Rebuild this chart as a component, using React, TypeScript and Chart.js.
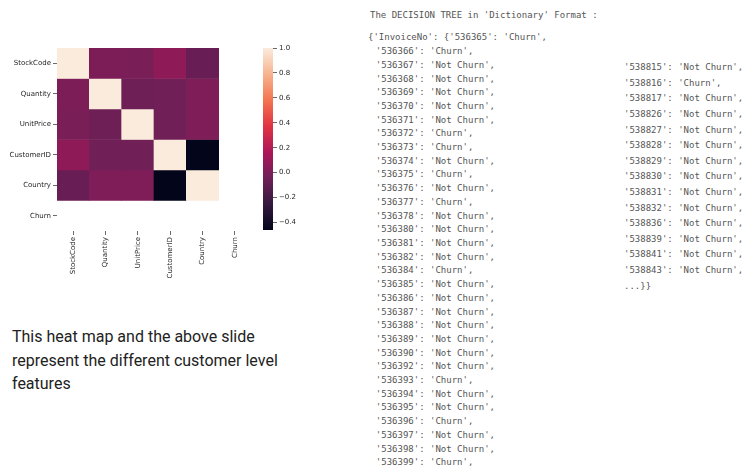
import React, { useEffect, useRef } from "react";
import { Chart, registerables } from "chart.js";

Chart.register(...registerables);

// ---------- data ----------
const features = ["StockCode", "Quantity", "UnitPrice", "CustomerID", "Country", "Churn"];
// correlation matrix rows (null = NaN, drawn blank)
const rowStockCode = [1.0, 0.0, -0.01, 0.06, -0.07, null];
const rowQuantity = [0.0, 1.0, -0.05, -0.04, 0.01, null];
const rowUnitPrice = [-0.01, -0.05, 1.0, -0.04, 0.01, null];
const rowCustomerID = [0.06, -0.04, -0.04, 1.0, -0.46, null];
const rowCountry = [-0.07, 0.01, 0.01, -0.46, 1.0, null];
const rowChurn = [null, null, null, null, null, null];
const colorbarTicks = [-0.4, -0.2, 0.0, 0.2, 0.4, 0.6, 0.8, 1.0];

const titleText = "The DECISION TREE in 'Dictionary' Format :";
const firstLine = "{'InvoiceNo': {'536365': 'Churn',";
const leftIds = ["536366", "536367", "536368", "536369", "536370", "536371", "536372", "536373", "536374", "536375", "536376", "536377", "536378", "536380", "536381", "536382", "536384", "536385", "536386", "536387", "536388", "536389", "536390", "536392", "536393", "536394", "536395", "536396", "536397", "536398", "536399"];
const leftLabels = ["Churn", "Not Churn", "Not Churn", "Not Churn", "Not Churn", "Not Churn", "Churn", "Churn", "Not Churn", "Churn", "Not Churn", "Churn", "Not Churn", "Not Churn", "Not Churn", "Not Churn", "Churn", "Not Churn", "Not Churn", "Not Churn", "Not Churn", "Not Churn", "Not Churn", "Not Churn", "Churn", "Not Churn", "Not Churn", "Churn", "Not Churn", "Not Churn", "Churn"];
const rightIds = ["538815", "538816", "538817", "538826", "538827", "538828", "538829", "538830", "538831", "538832", "538836", "538839", "538841", "538843"];
const rightLabels = ["Not Churn", "Churn", "Not Churn", "Not Churn", "Not Churn", "Not Churn", "Not Churn", "Not Churn", "Not Churn", "Not Churn", "Not Churn", "Not Churn", "Not Churn", "Not Churn"];
const captionLines = ["This heat map and the above slide", "represent the different customer level", "features"];

// ---------- colormap (seaborn "rocket") ----------
const rocketStops: [number, string][] = [
  [0, "#03051a"],
  [1 / 7, "#35193e"],
  [2 / 7, "#701f57"],
  [3 / 7, "#ad1759"],
  [4 / 7, "#e13342"],
  [5 / 7, "#f37651"],
  [6 / 7, "#f6b48f"],
  [1, "#faebdd"],
];
function hexToRgb(h: string) {
  return [parseInt(h.slice(1, 3), 16), parseInt(h.slice(3, 5), 16), parseInt(h.slice(5, 7), 16)];
}
function rocket(t: number) {
  t = Math.max(0, Math.min(1, t));
  for (let i = 0; i < rocketStops.length - 1; i++) {
    const [t0, c0] = rocketStops[i];
    const [t1, c1] = rocketStops[i + 1];
    if (t <= t1) {
      const f = (t - t0) / (t1 - t0);
      const a = hexToRgb(c0), b = hexToRgb(c1);
      const c = a.map((v, k) => Math.round(v + (b[k] - v) * f));
      return `rgb(${c[0]},${c[1]},${c[2]})`;
    }
  }
  return rocketStops[rocketStops.length - 1][1];
}

const matrix = [rowStockCode, rowQuantity, rowUnitPrice, rowCustomerID, rowCountry, rowChurn];
const allVals = matrix.flat().filter((v) => v !== null) as number[];
const vmin = Math.min(...allVals);
const vmax = Math.max(...allVals);

const tickFont = { family: "DejaVu Sans", size: 7 };
const tickColor = "#262626";

export default function App() {
  const heatRef = useRef<HTMLCanvasElement>(null);
  const barRef = useRef<HTMLCanvasElement>(null);

  useEffect(() => {
    const heat = new Chart(heatRef.current!, {
      type: "bar",
      data: {
        labels: features,
        datasets: matrix.map((row, i) => ({
          label: features[i],
          data: features.map(() => 1),
          backgroundColor: row.map((v) => (v === null ? "rgba(0,0,0,0)" : rocket((v - vmin) / (vmax - vmin)))),
          borderWidth: 0,
          barPercentage: 1,
          categoryPercentage: 1,
          stack: "s",
        })),
      },
      options: {
        animation: false,
        responsive: false,
        devicePixelRatio: 1,
        layout: { padding: { top: 48, left: 0, right: 9, bottom: 0 } },
        plugins: { legend: { display: false }, tooltip: { enabled: false } },
        scales: {
          x: {
            type: "category",
            stacked: true,
            offset: true,
            grid: { offset: false, drawOnChartArea: false, drawTicks: true, tickLength: 4, color: "#444", lineWidth: 0.8 },
            border: { display: false },
            ticks: { minRotation: 90, maxRotation: 90, autoSkip: false, font: tickFont, color: tickColor, padding: 2 },
            afterFit: (s: any) => { s.height = 69; },
          },
          y: {
            type: "linear",
            min: 0,
            max: 6,
            reverse: true,
            stacked: true,
            afterBuildTicks: (s: any) => { s.ticks = features.map((_, i) => ({ value: i + 0.5 })); },
            grid: { drawOnChartArea: false, drawTicks: true, tickLength: 4, color: "#444", lineWidth: 0.8 },
            border: { display: false },
            ticks: { autoSkip: false, font: tickFont, color: tickColor, padding: 2, callback: (_v: any, i: number) => features[i] },
            afterFit: (s: any) => { s.width = 57; },
          },
        },
      } as any,
    });

    const bar = new Chart(barRef.current!, {
      type: "bar",
      data: {
        labels: ["colorbar"],
        datasets: [
          {
            data: [[vmin, vmax]] as any,
            borderWidth: 0,
            barPercentage: 1,
            categoryPercentage: 1,
            backgroundColor: (ctx: any) => {
              const chart = ctx.chart;
              const ys = chart.scales && chart.scales.y;
              if (!ys || !chart.chartArea) return rocket(0.5);
              const g = chart.ctx.createLinearGradient(0, ys.getPixelForValue(vmin), 0, ys.getPixelForValue(vmax));
              rocketStops.forEach(([t, c]) => g.addColorStop(t, c));
              return g;
            },
          },
        ],
      },
      options: {
        animation: false,
        responsive: false,
        devicePixelRatio: 1,
        layout: { padding: { top: 48, left: 8, right: 0, bottom: 70 } },
        plugins: { legend: { display: false }, tooltip: { enabled: false } },
        scales: {
          x: { display: false },
          y: {
            type: "linear",
            position: "right",
            min: vmin,
            max: vmax,
            afterBuildTicks: (s: any) => { s.ticks = colorbarTicks.map((v) => ({ value: v })); },
            grid: { drawOnChartArea: false, drawTicks: true, tickLength: 4, color: "#444", lineWidth: 0.8 },
            border: { display: false },
            ticks: {
              font: tickFont,
              color: tickColor,
              padding: 2,
              callback: (v: any) => Number(v).toFixed(1).replace("-", "\u2212"),
            },
            afterFit: (s: any) => { s.width = 42; },
          },
        },
      } as any,
    });

    return () => {
      heat.destroy();
      bar.destroy();
    };
  }, []);

  const mono: React.CSSProperties = {
    position: "absolute",
    margin: 0,
    fontFamily: "'DejaVu Sans Mono', monospace",
    fontSize: 9,
    color: "#555",
    whiteSpace: "pre",
  };
  const lineH = 13.7;

  return (
    <div style={{ position: "absolute", left: 0, top: 0, width: 747, height: 471, background: "#fff", overflow: "hidden" }}>
      <canvas ref={heatRef} width={260} height={300} style={{ position: "absolute", left: 0, top: 0 }} />
      <canvas ref={barRef} width={60} height={300} style={{ position: "absolute", left: 255, top: 0 }} />

      <div style={{ ...mono, left: 370, top: 16 - lineH / 2, lineHeight: `${lineH}px` }}>{titleText}</div>
      <div style={{ ...mono, left: 368, top: 38 - lineH / 2, lineHeight: `${lineH}px` }}>{firstLine}</div>
      <div style={{ ...mono, left: 365, top: 52 - lineH / 2, lineHeight: `${lineH}px` }}>
        {leftIds.map((id, i) => `  '${id}': '${leftLabels[i]}',`).join("\n")}
      </div>
      <div style={{ ...mono, left: 624, top: 68 - 15.6 / 2, lineHeight: "15.6px" }}>
        {rightIds.map((id, i) => `'${id}': '${rightLabels[i]}',`).join("\n") + "\n...}}"}
      </div>

      <div
        style={{
          position: "absolute",
          left: 12,
          top: 337 - 11.75,
          fontFamily: "Roboto, sans-serif",
          fontSize: 16,
          lineHeight: "23.5px",
          color: "#222",
          whiteSpace: "pre",
        }}
      >
        {captionLines.join("\n")}
      </div>
    </div>
  );
}
